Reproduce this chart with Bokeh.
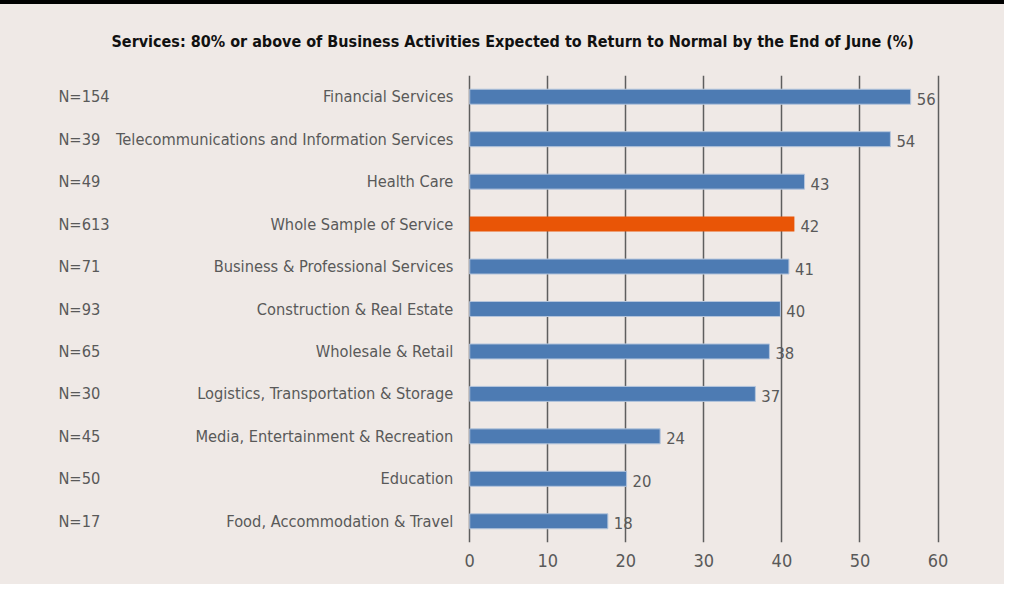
from bokeh.plotting import figure
from bokeh.models import ColumnDataSource, FactorRange, Range1d, FixedTicker
from bokeh.core.properties import value
from bokeh.embed import file_html
from bokeh.resources import INLINE

categories = [
    "Financial Services",
    "Telecommunications and Information Services",
    "Health Care",
    "Whole Sample of Service",
    "Business & Professional Services",
    "Construction & Real Estate",
    "Wholesale & Retail",
    "Logistics, Transportation & Storage",
    "Media, Entertainment & Recreation",
    "Education",
    "Food, Accommodation & Travel",
]
sample_sizes = ["N=154", "N=39", "N=49", "N=613", "N=71", "N=93", "N=65", "N=30", "N=45", "N=50", "N=17"]
values = [56.5, 53.9, 42.9, 41.6, 40.9, 39.8, 38.4, 36.6, 24.4, 20.1, 17.7]
value_labels = ["56", "54", "43", "42", "41", "40", "38", "37", "24", "20", "18"]
highlight = "Whole Sample of Service"
x_ticks = [0, 10, 20, 30, 40, 50, 60]

FONT = "'Liberation Sans Narrow', 'DejaVu Sans Condensed', sans-serif"
BG = "#efe9e6"
BLUE = "#4d7bb3"
ORANGE = "#e95506"
GREY = "#595959"

colors = [ORANGE if c == highlight else BLUE for c in categories]
outlines = [None if c == highlight else "#b5c5dc" for c in categories]

src = ColumnDataSource(dict(
    cat=categories, n=sample_sizes, val=values, lab=value_labels,
    color=colors, outline=outlines,
    zero=[0] * len(categories),
))

p = figure(
    width=1004, height=584,
    y_range=FactorRange(*reversed(categories), range_padding=0),
    x_range=Range1d(-60.12, 68.52),
    output_backend="svg", toolbar_location=None,
    min_border_left=0, min_border_right=0, min_border_top=75, min_border_bottom=42,
)
p.background_fill_color = None
p.border_fill_color = None
p.outline_line_color = None
p.styles = {"background": f"linear-gradient(to bottom, #000000 0px, #000000 4px, {BG} 4px, {BG} 100%)"}

p.title.text = "Services: 80% or above of Business Activities Expected to Return to Normal by the End of June (%)"
p.title.align = "left"
p.title.offset = 111
p.title.text_font = FONT
p.title.text_font_size = "16px"
p.title.text_font_style = "bold"
p.title.text_color = "#111111"
p.title.standoff = 49

p.hbar(y="cat", left="zero", right="val", height=0.353, source=src,
       fill_color="color", line_color="outline", line_width=1)

p.text(x="val", y="cat", text="lab", source=src, x_offset=6, y_offset=2,
       text_font=value(FONT), text_font_size="16.5px", text_color=GREY,
       text_align="left", text_baseline="middle")

p.text(x=-2.1, y="cat", text="cat", source=src,
       text_font=value(FONT), text_font_size="16.3px", text_color=GREY,
       text_align="right", text_baseline="middle")

p.text(x=-52.7, y="cat", text="n", source=src,
       text_font=value(FONT), text_font_size="16.3px", text_color=GREY,
       text_align="left", text_baseline="middle")

p.yaxis.visible = False
p.ygrid.grid_line_color = None

xa = p.xaxis[0]
xa.ticker = FixedTicker(ticks=x_ticks)
xa.axis_line_color = None
xa.major_tick_line_color = None
xa.minor_tick_line_color = None
xa.major_tick_out = 0
xa.major_label_standoff = 11
xa.major_label_text_font = FONT
xa.major_label_text_font_size = "18px"
xa.major_label_text_color = GREY

p.xgrid.ticker = FixedTicker(ticks=x_ticks)
p.xgrid.grid_line_color = "#5e5e5e"
p.xgrid.grid_line_width = 1.5

open("out.html", "w").write(file_html(p, INLINE))
